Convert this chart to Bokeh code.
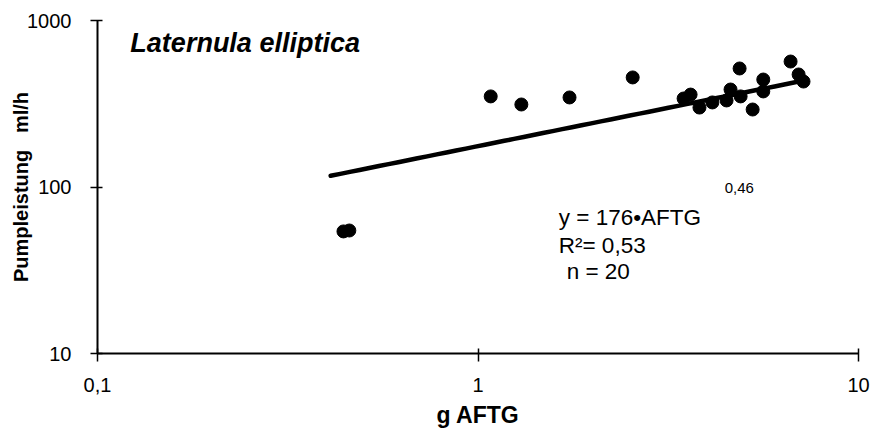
import numpy as np
from bokeh.plotting import figure
from bokeh.models import Range1d, FixedTicker, Label
from bokeh.embed import file_html
from bokeh.resources import INLINE

# Dry mass (g AFTG) and pumping rate (ml/h) of Laternula elliptica
aftg = [0.443, 0.459, 1.08, 1.30, 1.74, 2.55, 3.47, 3.62, 3.82, 4.13,
        4.50, 4.61, 4.90, 4.87, 5.27, 5.62, 5.62, 6.63, 6.96, 7.17]
pump = [54.1, 54.8, 350, 313, 345, 455, 340, 359, 300, 322,
        331, 385, 350, 515, 292, 442, 375, 567, 474, 430]

# Power-law fit y = a * x^b
fit_a = 176
fit_b = 0.46
fit_r2 = "0,53"
fit_x_limits = [0.41, 7.17]

x_ticks = [0.1, 1, 10]
x_tick_labels = ["0,1", "1", "10"]
y_ticks = [10, 100, 1000]
y_tick_labels = ["10", "100", "1000"]

FONT = "Liberation Sans"
INK = "black"

p = figure(width=872, height=433, x_axis_type="log", y_axis_type="log",
           x_range=Range1d(0.1, 10), y_range=Range1d(10, 1000),
           output_backend="svg", toolbar_location=None,
           min_border_left=97, min_border_right=14,
           min_border_top=20, min_border_bottom=80)

p.grid.visible = False
p.outline_line_color = None
p.background_fill_color = "white"
p.border_fill_color = "white"

# fitted curve
fx = np.logspace(np.log10(fit_x_limits[0]), np.log10(fit_x_limits[1]), 50)
fy = fit_a * fx ** fit_b
p.line(fx, fy, line_color=INK, line_width=4.5, line_cap="round")

# measurements
p.scatter(aftg, pump, size=13, fill_color=INK, line_color=INK)

# axes
for ax in (p.xaxis[0], p.yaxis[0]):
    ax.axis_line_color = INK
    ax.axis_line_width = 2
    ax.major_tick_line_color = INK
    ax.major_tick_line_width = 1.5
    ax.minor_tick_line_color = None
    ax.major_tick_in = 5
    ax.major_label_text_font = FONT
    ax.major_label_text_font_size = "20px"
    ax.major_label_text_color = INK
    ax.axis_label_text_font = FONT
    ax.axis_label_text_font_style = "bold"
    ax.axis_label_text_color = INK

p.xaxis.ticker = FixedTicker(ticks=x_ticks)
p.xaxis.major_label_overrides = dict(zip(x_ticks, x_tick_labels))
p.xaxis.major_tick_out = 8
p.xaxis.major_label_standoff = 16
p.xaxis.axis_label = "g AFTG"
p.xaxis.axis_label_text_font_size = "23px"
p.xaxis.axis_label_standoff = 7

p.yaxis.ticker = FixedTicker(ticks=y_ticks)
p.yaxis.major_label_overrides = dict(zip(y_ticks, y_tick_labels))
p.yaxis.major_tick_out = 7
p.yaxis.major_label_standoff = 19
p.yaxis.axis_label = "Pumpleistung\u00a0\u00a0\u00a0ml/h"
p.yaxis.axis_label_text_font_size = "20px"
p.yaxis.axis_label_standoff = -8

# species name
p.add_layout(Label(x=0.122, y=728, text="Laternula elliptica",
                   text_font=FONT, text_font_size="27px", text_color=INK,
                   text_font_style="bold italic", text_baseline="middle"))

# regression annotation
eq_font = "22.5px"
p.add_layout(Label(x=1.63, y=65.6, text="y = %d•AFTG" % fit_a, text_color=INK,
                   text_font=FONT, text_font_size=eq_font, text_baseline="middle"))
p.add_layout(Label(x=4.45, y=98, text=("%.2f" % fit_b).replace(".", ","),
                   text_color=INK, text_font=FONT, text_font_size="15px",
                   text_baseline="middle"))
p.add_layout(Label(x=1.63, y=44.6, text="R²= " + fit_r2, text_color=INK,
                   text_font=FONT, text_font_size=eq_font, text_baseline="middle"))
p.add_layout(Label(x=1.71, y=31.1, text="n = %d" % len(aftg), text_color=INK,
                   text_font=FONT, text_font_size=eq_font, text_baseline="middle"))

open("out.html", "w").write(file_html(p, INLINE))
